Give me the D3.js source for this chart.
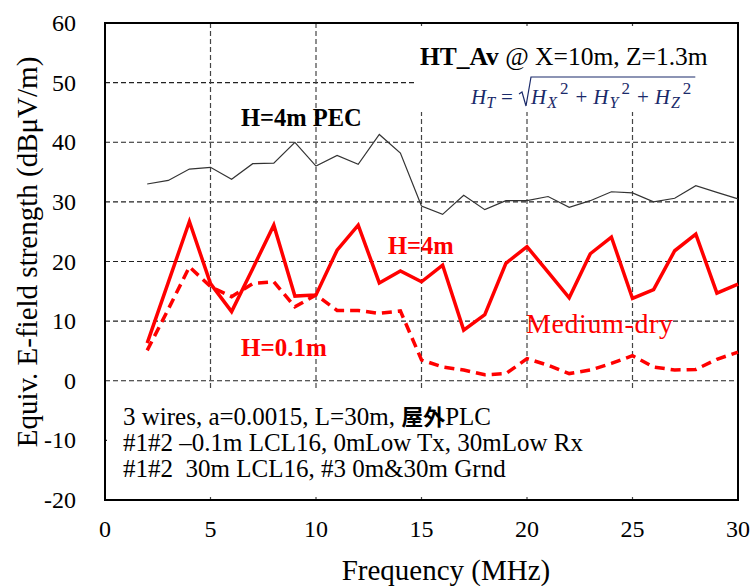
<!DOCTYPE html>
<html><head><meta charset="utf-8">
<script src="https://cdn.jsdelivr.net/npm/d3@7"></script>
<style>
body{margin:0;background:#fff;}
</style></head>
<body>
<svg id="c" width="755" height="586" font-family="Liberation Serif, Times New Roman, DejaVu Serif, serif"></svg>
<script>
const freqs = [2,3,4,5,6,7,8,9,10,11,12,13,14,15,16,17,18,19,20,21,22,23,24,25,26,27,28,29,30];
const pec4m = [33.0,33.6,35.5,35.8,33.8,36.4,36.5,40.0,36.0,37.8,36.3,41.3,38.2,29.3,27.9,31.1,28.7,30.2,30.2,30.9,29.1,30.2,31.7,31.5,30.0,30.6,32.7,31.6,30.5];
const h4m = [6.3,16.5,26.7,16.3,11.6,18.8,26.1,14.2,14.4,21.9,26.1,16.4,18.4,16.6,19.4,8.5,11.1,19.7,22.5,18.2,13.9,21.3,24.1,13.8,15.3,21.8,24.6,14.7,16.2];
const h01m = [5.1,12.0,19.1,15.8,14.1,16.3,16.6,12.4,14.4,11.8,11.8,11.3,11.7,3.5,2.3,1.8,1.0,1.2,3.7,2.6,1.2,1.8,2.9,4.2,2.3,1.8,1.9,3.6,4.8];
const xTicks = [0,5,10,15,20,25,30];
const yTicks = [-20,-10,0,10,20,30,40,50,60];
const xLabel = "Frequency (MHz)";
const yLabel = "Equiv. E-field strength (dBμV/m)";
const legendLines = ["3 wires, a=0.0015, L=30m, ", "#1#2 –0.1m LCL16, 0mLow Tx, 30mLow Rx", "#1#2  30m LCL16, #3 0m&30m Grnd"];

const svg = d3.select("#c");
const L=105, R=738, T=23, B=500;
const x = d3.scaleLinear().domain([0,30]).range([L,R]);
const y = d3.scaleLinear().domain([-20,60]).range([B,T]);

// grid
const g = svg.append("g");
g.selectAll(".hg").data(yTicks.filter(v=>v>-20&&v<60)).join("line")
  .attr("x1",L).attr("x2",R).attr("y1",d=>y(d)).attr("y2",d=>y(d))
  .attr("stroke","#222").attr("stroke-width",1.2).attr("stroke-dasharray","5,3");
g.selectAll(".vg").data(xTicks.filter(v=>v>0&&v<30)).join("line")
  .attr("y1",T).attr("y2",B).attr("x1",d=>x(d)).attr("x2",d=>x(d))
  .attr("stroke","#444").attr("stroke-width",1.2).attr("stroke-dasharray","5,3");

// white boxes covering grid
svg.append("rect").attr("x",414).attr("y",26).attr("width",R-414-1).attr("height",86).attr("fill","#fff");
svg.append("rect").attr("x",L+2).attr("y",388).attr("width",R-L-3).attr("height",109).attr("fill","#fff");

// frame
svg.append("rect").attr("x",L).attr("y",T).attr("width",R-L).attr("height",B-T)
  .attr("fill","none").attr("stroke","#000").attr("stroke-width",2);

// series
const line = d3.line().x(d=>x(d[0])).y(d=>y(d[1]));
svg.append("path").datum(freqs.map((f,i)=>[f,pec4m[i]])).attr("d",line)
  .attr("fill","none").attr("stroke","#333").attr("stroke-width",1.2);
svg.append("path").datum(freqs.map((f,i)=>[f,h4m[i]])).attr("d",line)
  .attr("fill","none").attr("stroke","#ff0000").attr("stroke-width",3.5).attr("stroke-linejoin","miter");
svg.append("path").datum(freqs.map((f,i)=>[f,h01m[i]])).attr("d",line)
  .attr("fill","none").attr("stroke","#ff0000").attr("stroke-width",3.5).attr("stroke-dasharray","10,6");

// tick labels
svg.selectAll(".xt").data(xTicks).join("text").attr("x",d=>x(d)).attr("y",537)
  .attr("text-anchor","middle").attr("font-size",24).text(d=>d);
svg.selectAll(".yt").data(yTicks).join("text").attr("x",76).attr("y",d=>y(d)+8)
  .attr("text-anchor","end").attr("font-size",24).text(d=>d);

// axis titles
svg.append("text").attr("x",446).attr("y",580).attr("text-anchor","middle").attr("font-size",29).text(xLabel);
svg.append("text").attr("transform","translate(37,252) rotate(-90)").attr("text-anchor","middle").attr("font-size",29).text(yLabel);

// annotations
svg.append("text").attr("x",241).attr("y",126).attr("font-size",24.5).attr("font-weight","bold").text("H=4m PEC");
svg.append("text").attr("x",388).attr("y",254).attr("font-size",24.5).attr("font-weight","bold").attr("fill","#ff0000").text("H=4m");
svg.append("text").attr("x",241).attr("y",356).attr("font-size",25).attr("font-weight","bold").attr("fill","#ff0000").text("H=0.1m");
svg.append("text").attr("x",526).attr("y",333).attr("font-size",28).attr("letter-spacing",0.6).attr("fill","#ff0000").text("Medium-dry");

// title
const tt = svg.append("text").attr("x",420).attr("y",65).attr("font-size",25.5);
tt.append("tspan").attr("font-weight","bold").text("HT_Av");
tt.append("tspan").text(" @ X=10m, Z=1.3m");

// formula
const fc = "#1a2a6a";
const f1 = svg.append("text").attr("x",471).attr("y",104).attr("font-size",21).attr("font-style","italic").attr("fill",fc);
f1.append("tspan").text("H");
f1.append("tspan").attr("dy",4).attr("font-size",16).text("T");
f1.append("tspan").attr("dy",-4).attr("dx",6).attr("font-style","normal").text("=");
const rx = 531;
const f2 = svg.append("text").attr("x",rx).attr("y",104).attr("font-size",21).attr("font-style","italic").attr("fill",fc);
[["X","+"],["Y","+"],["Z",""]].forEach(([s,op],i)=>{
  f2.append("tspan").attr("dx",i?6:0).text("H");
  f2.append("tspan").attr("dy",4).attr("dx",1).attr("font-size",16).text(s);
  f2.append("tspan").attr("dy",-14).attr("dx",3).attr("font-size",17).attr("font-style","normal").text("2");
  if(op) f2.append("tspan").attr("dy",10).attr("dx",7).attr("font-style","normal").text(op);
});
const bb = f2.node().getBBox();
const w2 = bb.width;
svg.append("path").attr("d",`M${rx-12},${94} L${rx-9},${92} L${rx-5},${106} L${rx},${77} L${rx+w2+3},${77}`)
  .attr("fill","none").attr("stroke",fc).attr("stroke-width",1.2);

// legend box text
const lt = svg.append("g").attr("font-size",25);
const l1 = lt.append("text").attr("x",123).attr("y",425).style("white-space","pre");
l1.append("tspan").text(legendLines[0]);
l1.append("tspan").attr("font-family","Noto Sans CJK JP").attr("font-weight","bold").attr("font-size",22).text("屋外");
l1.append("tspan").text("PLC");
lt.append("text").attr("x",123).attr("y",451).text(legendLines[1]);
lt.append("text").attr("x",123).attr("y",477).style("white-space","pre").text(legendLines[2]);
</script>
</body></html>
